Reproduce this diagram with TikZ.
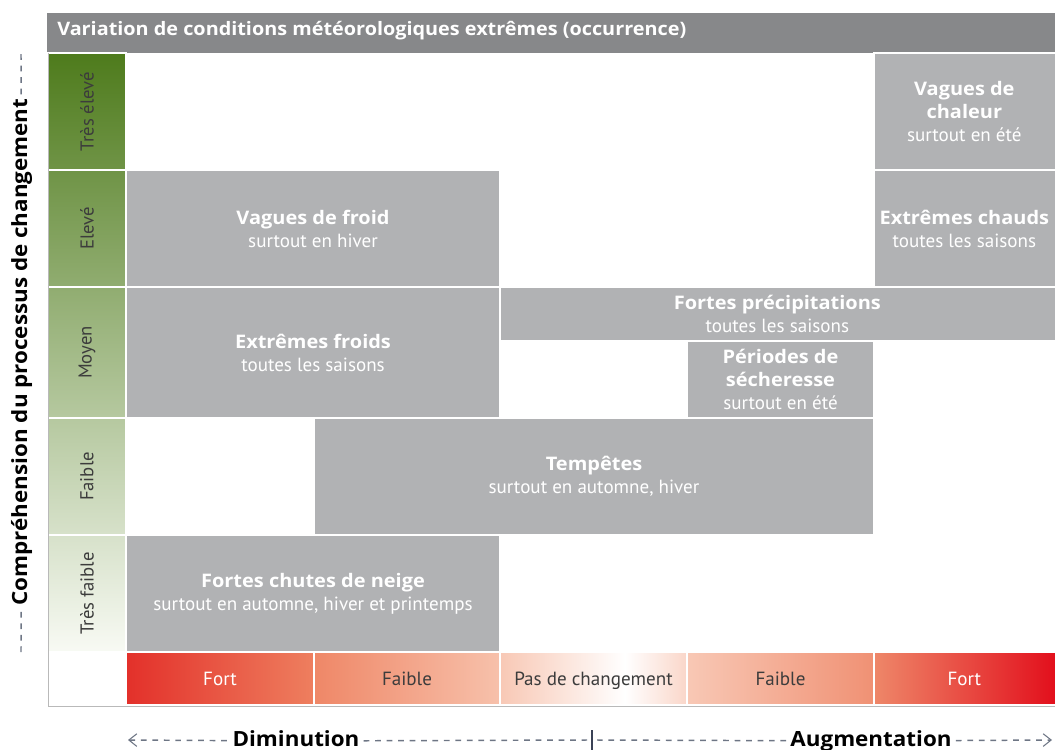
\documentclass[tikz,border=0pt]{standalone}
\usepackage{fontspec}
\setmainfont{PT Sans}
\newfontfamily\opensans{Open Sans}[FakeStretch=1.07]
\usetikzlibrary{fit,arrows.meta}

\definecolor{headgray}{HTML}{87888A}
\definecolor{blockgray}{HTML}{B1B2B4}
\definecolor{framegray}{HTML}{B9B9B9}
\definecolor{leafdark}{HTML}{4E7B1C}
\definecolor{leafmid}{HTML}{BACB9F}
\definecolor{leaflight}{HTML}{F8FAF4}
\definecolor{labgray}{HTML}{3C3C3C}
\definecolor{dashgray}{HTML}{6E7685}
\definecolor{tickgray}{HTML}{3A4256}
\definecolor{redleft}{HTML}{E3302A}
\definecolor{redright}{HTML}{E20C1A}
\definecolor{barA}{HTML}{EE7F5F}
\definecolor{barB}{HTML}{EF8767}
\definecolor{barC}{HTML}{F7C1AB}
\definecolor{barD}{HTML}{F8C8B5}
\definecolor{barE}{HTML}{FAD6C9}
\definecolor{barF}{HTML}{F09174}
\definecolor{barG}{HTML}{EE8769}

\newcommand\heavy[1]{{\fontsize{14}{17.25}\opensans\bfseries #1}}

\tikzset{
  blok/.style = {fill=blockgray, draw=white, line width=1.1pt, inner sep=0pt},
  bloktext/.style = {align=center, text=white, inner sep=0pt,
                     font=\fontsize{14.3}{17.25}\selectfont},
  rowcell/.style = {draw=white, line width=1.1pt, inner sep=0pt},
  rowlab/.style = {rotate=90, text=labgray, font=\fontsize{14}{16}\selectfont},
  barcell/.style = {draw=white, line width=1.1pt, inner sep=0pt},
  barlab/.style = {text=labgray, inner sep=0pt, text height=10pt, text depth=0pt,
                   font=\fontsize{14.3}{16}\selectfont},
  axislab/.style = {font=\fontsize{15.7}{19}\opensans\bfseries, text height=11.5pt,
                    text depth=4pt, inner sep=3pt},
  axisdash/.style = {dashgray, line width=1.1pt, dash pattern=on 4.3pt off 4.3pt},
  barb/.tip = {Straight Barb[length=6pt,width=9.5pt,line width=0.8pt]}
}

\begin{document}
\begin{tikzpicture}[x=0.75pt, y=-0.75pt]
  \useasboundingbox (0,0) rectangle (1055,749);

  % title bar
  \node[fill=headgray, inner sep=0pt, fit={(47,13) (1060,53)}] (head) {};
  \node[anchor=base west, text=white, inner sep=0pt,
        font=\fontsize{13.9}{16}\opensans\bfseries] (titel) at (57,36)
        {Variation de conditions météorologiques extrêmes (occurrence)};

  % understanding scale on the left
  \shade[top color=leafdark, middle color=leafmid, bottom color=leaflight]
        (48,53) rectangle (126,652);
  \node[rowcell, fit={(48,53) (126,170)}] (tres) {};
  \node[rowcell, fit={(48,170) (126,287)}] (eleve) {};
  \node[rowcell, fit={(48,287) (126,418)}] (moyen) {};
  \node[rowcell, fit={(48,418) (126,535)}] (faible) {};
  \node[rowcell, fit={(48,535) (126,652)}] (tfaible) {};
  \node[rowlab] (ltres) at (tres) {Très élevé};
  \node[rowlab] (leleve) at (eleve) {Elevé};
  \node[rowlab] (lmoyen) at (moyen) {Moyen};
  \node[rowlab] (lfaible) at (faible) {Faible};
  \node[rowlab] (ltfaible) at (tfaible) {Très faible};

  % events
  \node[blok, fit={(874,53) (1060,170)}] (chaleur) {};
  \node[blok, fit={(874,170) (1060,287)}] (chauds) {};
  \node[blok, fit={(126,170) (500,287)}] (froid) {};
  \node[blok, fit={(126,287) (500,418)}] (froids) {};
  \node[blok, fit={(500,287) (1060,341)}] (precip) {};
  \node[blok, fit={(687,341) (874,418)}] (seche) {};
  \node[blok, fit={(314,418) (874,535)}] (tempete) {};
  \node[blok, fit={(126,535) (500,652)}] (neige) {};

  \node[bloktext] (tchaleur) at ([xshift=-2]chaleur) {\heavy{Vagues de}\\\heavy{chaleur}\\surtout en été};
  \node[bloktext] (tchauds) at ([xshift=-2]chauds) {\heavy{Extrêmes chauds}\\toutes les saisons};
  \node[bloktext] (tfroid) at (froid) {\heavy{Vagues de froid}\\surtout en hiver};
  \node[bloktext] (tfroids) at (froids) {\heavy{Extrêmes froids}\\toutes les saisons};
  \node[bloktext] (tprecip) at ([xshift=-2]precip) {\heavy{Fortes précipitations}\\toutes les saisons};
  \node[bloktext] (tseche) at (seche) {\heavy{Périodes de}\\\heavy{sécheresse}\\surtout en été};
  \node[bloktext] (ttempete) at (tempete) {\heavy{Tempêtes}\\surtout en automne, hiver};
  \node[bloktext] (tneige) at (neige) {\heavy{Fortes chutes de neige}\\surtout en automne, hiver et printemps};

  % change scale at the bottom
  \shade[left color=barD, right color=white] (500,652) rectangle (625,705);
  \shade[left color=white, right color=barE] (625,652) rectangle (687,705);
  \node[barcell, fit={(126,652) (314,705)}, left color=redleft, right color=barA] (dfort) {};
  \node[barcell, fit={(314,652) (500,705)}, left color=barB, right color=barC] (dfaible) {};
  \node[barcell, fit={(500,652) (687,705)}] (nul) {};
  \node[barcell, fit={(687,652) (874,705)}, left color=barD, right color=barF] (afaible) {};
  \node[barcell, fit={(874,652) (1060,705)}, left color=barG, right color=redright] (afort) {};

  \node[barlab, text=white] (ldfort) at (dfort) {Fort};
  \node[barlab] (ldfaible) at (dfaible) {Faible};
  \node[barlab] (lnul) at (nul) {Pas de changement};
  \node[barlab] (lafaible) at (afaible) {Faible};
  \node[barlab, text=white] (lafort) at ([xshift=-2]afort) {Fort};

  \draw[framegray, line width=0.75pt] (48,53) -- (48,706) -- (1058,706);

  % axis captions
  \node[axislab, anchor=base] (dimi) at (296,746) {Diminution};
  \node[axislab, anchor=base] (augm) at (871,746) {Augmentation};
  \coordinate (dstart) at (128,740);
  \coordinate (aend) at (1052,740);
  \coordinate (zeroL) at (587,740);
  \coordinate (zeroR) at (597,740);
  \coordinate (zeroT) at (592,730);
  \coordinate (zeroB) at (592,752);
  \draw[axisdash, barb-] (dstart) -- (dimi);
  \draw[axisdash] (dimi) -- (zeroL);
  \draw[axisdash] (zeroR) -- (augm);
  \draw[axisdash, -barb] (augm) -- (aend);
  \draw[tickgray, line width=1.2pt] (zeroT) -- (zeroB);

  \node[axislab, rotate=90, anchor=base] (compr) at (27,352)
        {Compréhension du processus de changement};
  \coordinate (cbot) at (21,652);
  \coordinate (ctop) at (21,53);
  \draw[axisdash] (cbot) -- (compr);
  \draw[axisdash] (compr) -- (ctop);
\end{tikzpicture}
\end{document}
